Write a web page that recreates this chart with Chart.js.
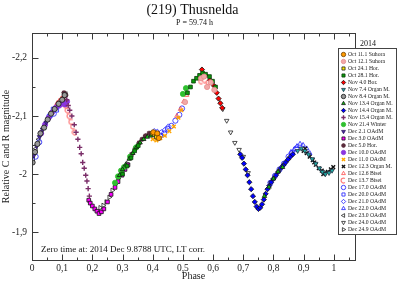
<!DOCTYPE html>
<html>
<head>
<meta charset="utf-8">
<script src="https://cdn.jsdelivr.net/npm/chart.js@4.4.1/dist/chart.umd.min.js"></script>
<style>
  html, body { margin: 0; padding: 0; background: #fff; }
  canvas { display: block; }
</style>
</head>
<body>
<canvas id="lc" width="399" height="282"></canvas>
<script>
// Texts
const chartTitle = '(219) Thusnelda';
const periodText = 'P = 59.74 h';
const zeroTimeText = 'Zero time at: 2014 Dec 9.8788 UTC, LT corr.';
const legendTitle = '2014';
const xTitle = 'Phase';
const yTitle = 'Relative C and R magnitude';

// Session names (legend order)
const seriesNames = [
  'Oct 11.1 Suhora', 'Oct 12.1 Suhora', 'Oct 24.1 Hor.', 'Oct 28.1 Hor.', 'Nov 4.0 Bor.',
  'Nov 7.4 Organ M.', 'Nov 8.4 Organ M.', 'Nov 13.4 Organ M.', 'Nov 14.4 Organ M.', 'Nov 15.4 Organ M.',
  'Nov 21.4 Winter', 'Dec 2.1 OAdM', 'Dec 3.0 OAdM', 'Dec 5.0 Hor.', 'Dec 10.0 OAdM',
  'Dec 11.0 OAdM', 'Dec 12.3 Organ M.', 'Dec 12.6 Bisei', 'Dec 13.7 Bisei', 'Dec 17.0 OAdM',
  'Dec 20.0 OAdM', 'Dec 21.0 OAdM', 'Dec 22.0 OAdM', 'Dec 23.0 OAdM', 'Dec 24.0 OAdM', 'Dec 24.9 OAdM'
];

// [phase, magnitude] per session
const oct111 = [[0.402,-2.072],[0.415,-2.070],[0.420,-2.062]];
const oct121 = [[0.507,-2.124],[0.560,-2.165],[0.570,-2.168],[0.580,-2.150],[0.592,-2.158],[0.604,-2.145]];
const oct241 = [[0.398,-2.070],[0.405,-2.068],[0.412,-2.064]];
const oct281 = [[0.300,-2.000],[0.315,-2.014],[0.328,-2.028],[0.340,-2.040],[0.352,-2.049],
  [0.515,-2.140],[0.525,-2.150],[0.535,-2.160],[0.545,-2.165],[0.555,-2.170],[0.565,-2.174],
  [0.575,-2.172],[0.588,-2.168],[0.598,-2.160],[0.608,-2.150]];
const nov40 = [[0.563,-2.180],[0.575,-2.170],[0.590,-2.162],[0.603,-2.152],[0.612,-2.140],
  [0.618,-2.130],[0.624,-2.122],[0.630,-2.114]];
const nov74 = [[0.880,-2.040],[0.892,-2.044],[0.904,-2.040],[0.916,-2.034],[0.928,-2.026],[0.940,-2.018],
  [0.952,-2.010],[0.962,-2.004],[0.972,-2.000],[0.984,-2.002],[0.994,-2.006]];
const nov84 = [[0.002,-2.020],[0.010,-2.038],[0.018,-2.052],[0.028,-2.070],[0.040,-2.080],[0.052,-2.094],
  [0.063,-2.104],[0.075,-2.112],[0.088,-2.121],[0.100,-2.128],[0.108,-2.136]];
const nov134 = [[0.290,-1.998],[0.300,-2.008],[0.310,-2.016],[0.322,-2.026],[0.334,-2.036],[0.346,-2.046],
  [0.358,-2.054],[0.370,-2.060],[0.382,-2.064],[0.394,-2.066],
  [0.770,-1.962],[0.785,-1.978],[0.800,-1.992],[0.815,-2.004],[0.830,-2.012]];
const nov144 = [[0.690,-2.034],[0.696,-2.028],[0.702,-2.018],[0.708,-2.008],[0.714,-1.998],[0.720,-1.986],
  [0.726,-1.974],[0.732,-1.962],[0.738,-1.952],[0.744,-1.944],[0.750,-1.940],[0.756,-1.942],
  [0.762,-1.948],[0.768,-1.956],[0.774,-1.966],[0.780,-1.974],[0.786,-1.980],[0.792,-1.986],
  [0.800,-1.992],[0.808,-1.998],[0.816,-2.004],[0.824,-2.010],[0.832,-2.015],[0.840,-2.020],
  [0.848,-2.025],[0.856,-2.030],[0.864,-2.034]];
const nov154 = [[0.115,-2.128],[0.120,-2.118],[0.125,-2.110],[0.132,-2.100],[0.140,-2.085],[0.146,-2.072],
  [0.152,-2.060],[0.158,-2.046],[0.163,-2.035],[0.168,-2.020],[0.173,-2.010],[0.178,-1.998],
  [0.182,-1.988],[0.186,-1.975],[0.190,-1.962]];
const nov214 = [[0.275,-1.985],[0.285,-1.996],[0.295,-2.006],[0.305,-2.012],[0.325,-2.030],[0.345,-2.046],
  [0.500,-2.138],[0.510,-2.148]];
const dec21 = [[0.006,-2.032],[0.015,-2.048],[0.025,-2.064],[0.035,-2.077],[0.047,-2.089]];
const dec30 = [[0.188,-1.955],[0.193,-1.950],[0.200,-1.945],[0.208,-1.940],[0.215,-1.936],[0.222,-1.932],
  [0.230,-1.935],[0.238,-1.940],[0.250,-1.952],[0.262,-1.965],[0.275,-1.977],[0.285,-1.987],
  [0.298,-1.998],[0.308,-2.008],[0.318,-2.016]];
const dec50 = [[0.106,-2.140],[0.112,-2.136],[0.330,-2.034],[0.342,-2.044],[0.355,-2.054],[0.365,-2.060],
  [0.376,-2.066],[0.388,-2.070]];
const dec100 = [[0.030,-2.070],[0.043,-2.085],[0.055,-2.097],[0.066,-2.106],[0.078,-2.114],[0.090,-2.118],
  [0.102,-2.122],[0.110,-2.120],[0.116,-2.125]];
const dec110 = [[0.400,-2.060],[0.412,-2.058],[0.425,-2.062],[0.440,-2.066],[0.455,-2.074],[0.470,-2.082],
  [0.485,-2.097],[0.495,-2.110]];
const dec123 = [[0.900,-2.040],[0.905,-2.044],[0.910,-2.036],[0.920,-2.030],[0.930,-2.024],[0.935,-2.020],
  [0.940,-2.016],[0.950,-2.010],[0.960,-2.006],[0.965,-2.000],[0.970,-2.002],[0.980,-2.004],
  [0.990,-2.008],[0.998,-2.012]];
const dec126 = [[0.075,-2.114],[0.083,-2.122],[0.090,-2.126],[0.097,-2.130],[0.103,-2.133],
  [0.480,-2.100],[0.492,-2.112],[0.503,-2.125],[0.512,-2.136]];
const dec137 = [[0.112,-2.118],[0.118,-2.110],[0.124,-2.100],[0.130,-2.090],[0.136,-2.082],[0.142,-2.072],
  [0.560,-2.160],[0.572,-2.162],[0.585,-2.158]];
const dec170 = [[0.012,-2.030],[0.024,-2.055],[0.058,-2.100],[0.072,-2.104],[0.085,-2.118],
  [0.425,-2.066],[0.438,-2.070],[0.450,-2.078],[0.462,-2.083],[0.475,-2.092],[0.488,-2.102],[0.497,-2.113],
  [0.790,-1.985],[0.805,-1.997],[0.820,-2.008],[0.835,-2.018],[0.850,-2.030],[0.862,-2.036],[0.875,-2.044]];
const dec200 = [[0.060,-2.100],[0.070,-2.112],[0.082,-2.110],[0.095,-2.120]];
const dec210 = [[0.405,-2.074],[0.415,-2.073],[0.428,-2.072],[0.440,-2.076],[0.452,-2.082]];
const dec220 = [[0.858,-2.038],[0.868,-2.042],[0.878,-2.048],[0.888,-2.052],[0.898,-2.050],[0.910,-2.044],[0.920,-2.036]];
const dec230 = [[0.004,-2.026],[0.013,-2.044],[0.022,-2.060],[0.033,-2.074],[0.045,-2.088],[0.057,-2.098],
  [0.068,-2.108],[0.080,-2.115],[0.093,-2.126],[0.105,-2.133],[0.112,-2.138]];
const dec240 = [[0.632,-2.112],[0.645,-2.092],[0.658,-2.072],[0.672,-2.054],[0.686,-2.042],[0.700,-2.030],[0.716,-2.002]];
const dec249 = [[0.226,-1.942],[0.236,-1.946],[0.246,-1.952],[0.256,-1.960],[0.266,-1.972],[0.276,-1.982],
  [0.286,-1.992],[0.296,-2.002],[0.306,-2.010],[0.316,-2.018]];

const seriesData = [oct111, oct121, oct241, oct281, nov40, nov74, nov84, nov134, nov144, nov154,
  nov214, dec21, dec30, dec50, dec100, dec110, dec123, dec126, dec137, dec170,
  dec200, dec210, dec220, dec230, dec240, dec249];

const SERIF = '"Liberation Serif", "Times New Roman", serif';

// "C" shaped marker for Dec 13.7
function cMarker(color) {
  const c = document.createElement('canvas');
  c.width = 7; c.height = 7;
  const g = c.getContext('2d');
  g.strokeStyle = color;
  g.lineWidth = 1.2;
  g.beginPath();
  g.arc(3.5, 3.5, 2.4, 0.3 * Math.PI, 1.7 * Math.PI);
  g.stroke();
  return c;
}

const OPEN = 'rgba(255,255,255,0)';
const markers = [
  { style: 'circle', rot: 0, fill: '#ff9a00', line: '#6b3f00' },
  { style: 'circle', rot: 0, fill: '#f2a8a8', line: '#e58c8c' },
  { style: 'rect', rot: 0, fill: '#ffee00', line: '#222' },
  { style: 'rect', rot: 0, fill: '#0b9a0b', line: '#0a3a0a' },
  { style: 'rectRot', rot: 0, fill: '#ff0000', line: '#111' },
  { style: 'triangle', rot: 180, fill: '#22b0a8', line: '#234' },
  { style: 'circle', rot: 0, fill: '#999', line: '#111' },
  { style: 'triangle', rot: 0, fill: '#10c010', line: '#111' },
  { style: 'rectRot', rot: 0, fill: '#0000ff', line: '#111' },
  { style: 'cross', rot: 0, fill: '#7a2d68', line: '#7a2d68', bw: 1.4 },
  { style: 'circle', rot: 0, fill: '#2fbf2f', line: '#2fbf2f' },
  { style: 'triangle', rot: 180, fill: '#4b2aa0', line: '#2a1460' },
  { style: 'rect', rot: 0, fill: '#ff00ff', line: '#111' },
  { style: 'star', rot: 0, fill: '#5a2c3c', line: '#5a2c3c', bw: 1.4 },
  { style: 'circle', rot: 0, fill: '#8a35e0', line: '#8a35e0' },
  { style: 'crossRot', rot: 0, fill: '#ffa500', line: '#ffa500', bw: 1.4 },
  { style: 'crossRot', rot: 0, fill: '#111', line: '#111', bw: 1.4 },
  { style: 'triangle', rot: 0, fill: OPEN, line: '#ff4a4a' },
  { style: cMarker('#ff7a7a'), rot: 0, fill: OPEN, line: '#ff7a7a' },
  { style: 'circle', rot: 0, fill: OPEN, line: '#1a1aff' },
  { style: 'rect', rot: 0, fill: OPEN, line: '#1a1aff' },
  { style: 'rectRot', rot: 0, fill: OPEN, line: '#1a1aff' },
  { style: 'triangle', rot: 0, fill: OPEN, line: '#1a1aff' },
  { style: 'triangle', rot: 270, fill: OPEN, line: '#222' },
  { style: 'triangle', rot: 180, fill: OPEN, line: '#222' },
  { style: 'triangle', rot: 90, fill: OPEN, line: '#222' }
];

const datasets = seriesData.map((pts, i) => ({
  label: seriesNames[i],
  data: pts.map(p => ({ x: p[0], y: p[1] })),
  pointStyle: markers[i].style,
  pointRotation: markers[i].rot,
  backgroundColor: markers[i].fill,
  borderColor: markers[i].line,
  pointBorderWidth: markers[i].bw || 0.8,
  pointRadius: 2.6,
  showLine: false
}));

function fmtTick(v) {
  const r = Math.round(v * 10) / 10;
  return String(r).replace('.', ',');
}

// frame, inward ticks, annotations and legend box
const extras = {
  id: 'extras',
  afterDraw(chart) {
    const ctx = chart.ctx, a = chart.chartArea;
    const xs = chart.scales.x, ys = chart.scales.y;
    const L = Math.round(a.left) + 0.5, R = Math.round(a.right) + 0.5;
    const T = Math.round(a.top) + 0.5, B = Math.round(a.bottom) + 0.5;
    ctx.save();
    ctx.strokeStyle = '#3a3a3a';
    ctx.lineWidth = 1;
    ctx.strokeRect(L, T, R - L, B - T);
    ctx.beginPath();
    for (let i = 0; i <= 21; i++) {
      const px = Math.round(xs.getPixelForValue(i * 0.05)) + 0.5;
      const len = i % 2 ? 3 : 6;
      ctx.moveTo(px, B); ctx.lineTo(px, B - len);
      ctx.moveTo(px, T); ctx.lineTo(px, T + len);
    }
    for (let i = 0; i <= 6; i++) {
      const py = Math.round(ys.getPixelForValue(-2.2 + i * 0.05)) + 0.5;
      const len = i % 2 ? 3 : 6;
      ctx.moveTo(L, py); ctx.lineTo(L + len, py);
    }
    ctx.stroke();

    ctx.fillStyle = '#111';
    ctx.textAlign = 'center';
    ctx.textBaseline = 'middle';
    const cx = (a.left + a.right) / 2;
    ctx.font = '14px ' + SERIF;
    ctx.fillText(chartTitle, cx - 1, 10);
    ctx.font = '8px ' + SERIF;
    ctx.fillText(periodText, cx + 1, 23);
    ctx.textAlign = 'left';
    ctx.font = '9px ' + SERIF;
    ctx.fillText(zeroTimeText, a.left + 9, 250);
    ctx.font = '8px ' + SERIF;
    ctx.fillText(legendTitle, 360, 44);

    // legend box
    const bx = 338.5, by = 48.5, bw = 58, bh = 186;
    ctx.fillStyle = '#fff';
    ctx.fillRect(bx, by, bw, bh);
    ctx.strokeStyle = '#444';
    ctx.strokeRect(bx, by, bw, bh);
    ctx.font = '5.7px ' + SERIF;
    chart.data.datasets.forEach((ds, i) => {
      const y = 54.5 + i * 7;
      ctx.fillStyle = markers[i].fill;
      ctx.strokeStyle = markers[i].line;
      ctx.lineWidth = markers[i].bw || 0.8;
      Chart.helpers.drawPoint(ctx, {
        pointStyle: markers[i].style, rotation: markers[i].rot,
        radius: 2.2, borderWidth: markers[i].bw || 0.8
      }, 343.5, y);
      ctx.fillStyle = '#222';
      ctx.fillText(ds.label, 348, y);
    });
    ctx.restore();
  }
};

new Chart(document.getElementById('lc'), {
  type: 'scatter',
  data: { datasets },
  options: {
    responsive: false,
    devicePixelRatio: 1,
    animation: false,
    layout: { padding: { top: 33, right: 44, left: 0, bottom: 0 } },
    plugins: { legend: { display: false }, tooltip: { enabled: false } },
    scales: {
      x: {
        type: 'linear', min: 0, max: 1.07,
        grid: { display: false, drawTicks: false }, border: { display: false },
        ticks: {
          stepSize: 0.1, includeBounds: false, autoSkip: false, maxRotation: 0,
          padding: 3, color: '#222', font: { family: SERIF, size: 9.5 },
          callback: fmtTick
        },
        title: { display: true, text: xTitle, color: '#222', padding: 0, font: { family: SERIF, size: 10 } },
        afterFit(s) { s.height = 22; }
      },
      y: {
        type: 'linear', reverse: true, min: -2.243, max: -1.852,
        grid: { display: false, drawTicks: false }, border: { display: false },
        ticks: {
          stepSize: 0.1, includeBounds: false, padding: 5, color: '#222',
          font: { family: SERIF, size: 9.5 }, callback: fmtTick
        },
        title: { display: true, text: yTitle, color: '#222', padding: 0, font: { family: SERIF, size: 10 } },
        afterFit(s) { s.width = 32; }
      }
    }
  },
  plugins: [extras]
});
</script>
</body>
</html>
